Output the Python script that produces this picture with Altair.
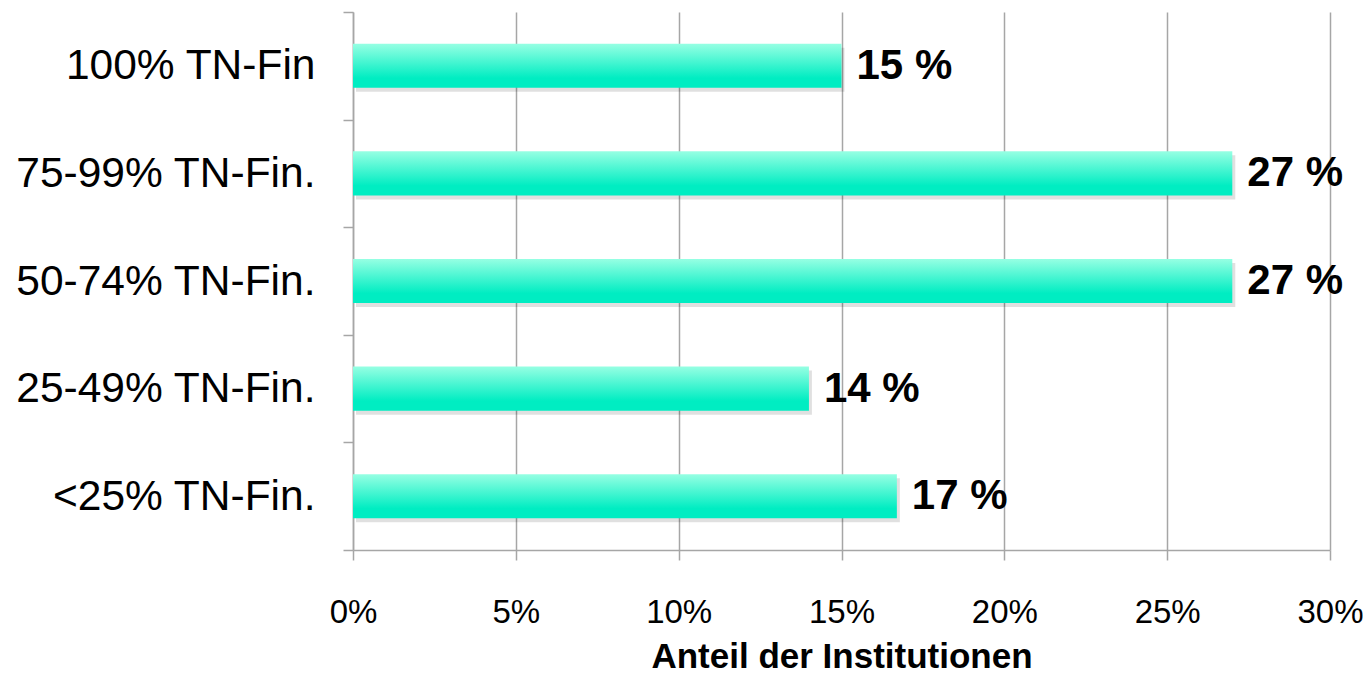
import altair as alt
import pandas as pd

categories = ["100% TN-Fin", "75-99% TN-Fin.", "50-74% TN-Fin.", "25-49% TN-Fin.", "<25% TN-Fin."]
values = [15.0, 27.0, 27.0, 14.0, 16.7]
labels = ["15 %", "27 %", "27 %", "14 %", "17 %"]
x_ticks = [0, 5, 10, 15, 20, 25, 30]

df = pd.DataFrame({"cat": categories, "val": [v / 100 for v in values], "lab": labels})

FONT = "Liberation Sans, Arial, Helvetica, sans-serif"
GRID = "#a6a6a6"

y_enc = alt.Y(
    "cat:N",
    sort=categories,
    scale=alt.Scale(paddingInner=0, paddingOuter=0),
    axis=alt.Axis(
        title=None,
        tickBand="extent",
        labelFont=FONT,
        labelFontSize=42.5,
        labelColor="#000000",
        labelPadding=28,
        labelLimit=0,
        tickSize=10,
        tickColor=GRID,
        tickWidth=1.5,
        domainColor=GRID,
        domainWidth=1.5,
        grid=False,
    ),
)

x_enc = alt.X(
    "val:Q",
    scale=alt.Scale(domain=[0, 0.30], nice=False),
    axis=alt.Axis(
        values=[t / 100 for t in x_ticks],
        format=".0%",
        title="Anteil der Institutionen",
        titleFont=FONT,
        titleFontSize=35,
        titleFontWeight="bold",
        titleColor="#000000",
        titlePadding=10,
        labelFont=FONT,
        labelFontSize=33,
        labelColor="#000000",
        labelPadding=36,
        labelFlush=False,
        tickSize=10,
        tickColor=GRID,
        tickWidth=1.5,
        domainColor=GRID,
        domainWidth=1.5,
        grid=True,
        gridColor=GRID,
        gridWidth=1.5,
    ),
)

BAR_BAND = 0.41

shadow = alt.Chart(df).mark_bar(
    color="#000000", opacity=0.12, xOffset=3, yOffset=4, height={"band": BAR_BAND}
).encode(x=x_enc, y=y_enc)

gradient = alt.Gradient(
    gradient="linear",
    x1=0, y1=0, x2=0, y2=1,
    stops=[
        alt.GradientStop(color="#96FFE3", offset=0),
        alt.GradientStop(color="#00EDC2", offset=0.78),
        alt.GradientStop(color="#00EDC2", offset=1),
    ],
)

bars = alt.Chart(df).mark_bar(color=gradient, height={"band": BAR_BAND}).encode(x=x_enc, y=y_enc)

text = alt.Chart(df).mark_text(
    align="left", baseline="middle", dx=15, font=FONT, fontSize=42, fontWeight="bold", color="#000000"
).encode(x=alt.X("val:Q"), y=alt.Y("cat:N", sort=categories), text="lab:N")

chart = (
    alt.layer(shadow, bars, text)
    .properties(
        width=977,
        height=538,
        autosize=alt.AutoSizeParams(type="none"),
        padding={"left": 345, "top": 4, "right": 33, "bottom": 129},
    )
    .configure_view(stroke=None)
)

chart.save("out.html", embed_options={"renderer": "svg", "actions": False})
